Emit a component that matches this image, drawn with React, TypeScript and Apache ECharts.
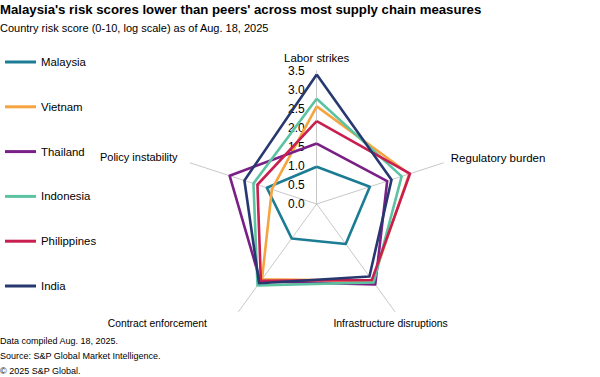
import React, { useEffect, useRef } from "react";
import * as echarts from "echarts";

// Indicators in the order ECharts lays them out (counter-clockwise from top)
const indicators = [
  "Labor strikes",
  "Policy instability",
  "Contract enforcement",
  "Infrastructure disruptions",
  "Regulatory burden",
];
const countries = ["Malaysia", "Vietnam", "Thailand", "Indonesia", "Philippines", "India"];
const colors = ["#1B7C93", "#F6A43F", "#7A1F86", "#5CC3A2", "#C81E50", "#26386F"];
const malaysia = [0.98, 1.38, 1.12, 1.3, 1.47];
const vietnam = [2.57, 1.24, 2.45, 2.5, 2.56];
const thailand = [1.59, 2.41, 2.52, 2.62, 1.95];
const indonesia = [2.77, 1.75, 2.65, 2.55, 2.35];
const philippines = [2.18, 1.64, 2.5, 2.47, 2.58];
const india = [3.41, 2.0, 2.58, 2.36, 2.07];
const seriesValues = [malaysia, vietnam, thailand, indonesia, philippines, india];
const axisMax = 3.5;
const footnotes = [
  "Data compiled Aug. 18, 2025.",
  "Source: S&P Global Market Intelligence.",
  "\u00a9 2025 S&P Global.",
];

const FONT = 'Arial, "Liberation Sans", sans-serif';

// Per-axis name placement tweaks (style only)
const nameStyles: any[] = [
  { fontSize: 11.4 },
  { fontSize: 11, align: "right", verticalAlign: "bottom", lineHeight: 7, padding: [0, 5, 0, 0] },
  { fontSize: 10.3, align: "right", verticalAlign: "top", padding: [0, 27, 0, 0] },
  { fontSize: 10.4, align: "center", verticalAlign: "top", padding: [0, 18, 0, 0] },
  { fontSize: 11.5, align: "left", verticalAlign: "bottom", lineHeight: 5, padding: [0, 0, 0, 0] },
];

export default function App() {
  const ref = useRef<HTMLDivElement>(null);
  useEffect(() => {
    document.body.style.margin = "0";
    const chart = echarts.init(ref.current!, null, { renderer: "svg" });
    chart.setOption({
      animation: false,
      backgroundColor: "#ffffff",
      textStyle: { fontFamily: FONT },
      title: [
        {
          text: "Malaysia's risk scores lower than peers' across most supply chain measures",
          left: 0,
          top: 1,
          padding: 0,
          textStyle: { fontSize: 13.2, lineHeight: 16, fontWeight: "bold", color: "#000", fontFamily: FONT },
        },
        {
          text: "Country risk score (0-10, log scale) as of Aug. 18, 2025",
          left: 0,
          top: 20.5,
          padding: 0,
          textStyle: { fontSize: 11, lineHeight: 14, fontWeight: "normal", color: "#000", fontFamily: FONT },
        },
        {
          text: footnotes.join("\n"),
          left: 0,
          top: 333.5,
          padding: 0,
          textStyle: { fontSize: 9, lineHeight: 14.8, fontWeight: "normal", color: "#000", fontFamily: FONT },
        },
      ],
      legend: {
        orient: "vertical",
        left: 5,
        top: 55,
        padding: 0,
        itemWidth: 31,
        itemHeight: 3,
        itemGap: 30.8,
        icon: "rect",
        data: countries,
        textStyle: { fontSize: 11.4, color: "#000", fontFamily: FONT, lineHeight: 14 },
      },
      radar: {
        center: [316.7, 204],
        radius: 133,
        startAngle: 90,
        shape: "polygon",
        splitNumber: 7,
        nameGap: 8,
        axisName: { color: "#000", fontSize: 11.4, fontFamily: FONT },
        indicator: indicators.map((name, i) => ({
          name,
          min: 0,
          max: axisMax,
          nameTextStyle: nameStyles[i],
          axisLabel:
            i === 0
              ? {
                  show: true,
                  color: "#000",
                  fontSize: 12,
                  fontFamily: FONT,
                  margin: 12,
                  formatter: (v: number) => v.toFixed(1),
                }
              : { show: false },
        })),
        axisLine: { lineStyle: { color: "#c8c8c8", width: 1 } },
        axisTick: { show: false },
        splitLine: { show: false },
        splitArea: { show: false },
      },
      series: countries.map((c, i) => ({
        type: "radar",
        name: c,
        symbol: "none",
        z: 2 + i,
        lineStyle: { color: colors[i], width: 2.6 },
        itemStyle: { color: colors[i] },
        data: [{ name: c, value: seriesValues[i] }],
      })),
    });
    return () => chart.dispose();
  }, []);
  return <div ref={ref} style={{ width: 600, height: 377 }} />;
}
